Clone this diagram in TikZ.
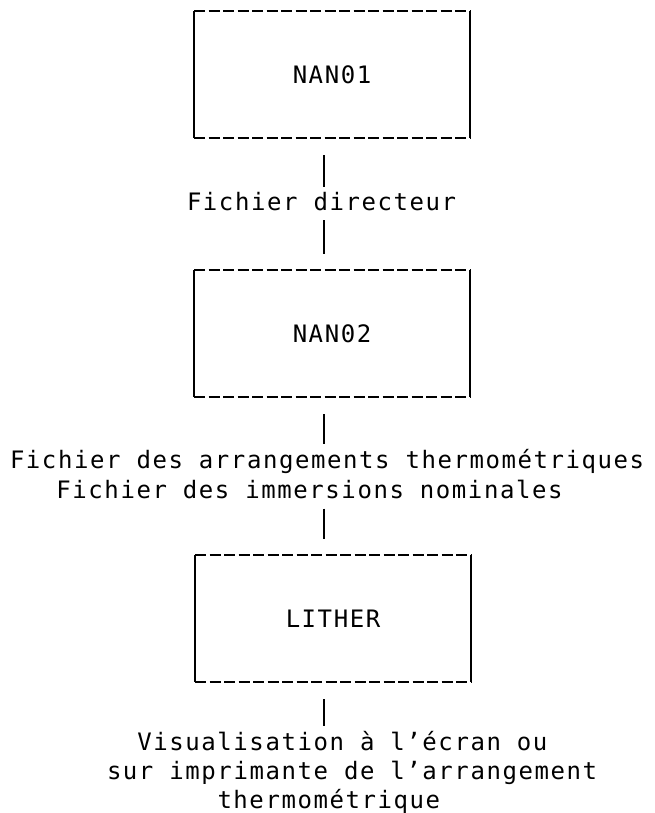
\documentclass[tikz,border=0pt]{standalone}
\usepackage{fontspec}
\newfontfamily\matrice[LetterSpace=6.5]{DejaVu Sans Mono}
% cadre : tirets en haut et en bas, traits pleins sur les cotes
\newcommand\encadre[1]{%
  \draw[tirets] (#1.north west) -- (#1.north east);
  \draw[tirets] (#1.south west) -- (#1.south east);
  \draw[trait] (#1.north west) -- (#1.south west);
  \draw[trait] (#1.north east) -- (#1.south east);}
\begin{document}
\begin{tikzpicture}[x=1pt,y=-1pt]\tikzstyle{every node}=[font=\matrice\fontsize{24}{30}\selectfont,inner sep=0pt,outer sep=0pt]
\tikzstyle{boite}=[minimum width=276pt,minimum height=127pt]
\tikzstyle{tirets}=[line width=2pt,dash pattern=on 11pt off 3.5pt]
\tikzstyle{trait}=[line width=2pt]
\tikzstyle{sortie}=[line width=1.8pt,shorten <=17pt,shorten >=5pt]
\tikzstyle{entree}=[line width=1.8pt,shorten <=10pt,shorten >=16pt]
\useasboundingbox (0,0) rectangle (655,813);
\node[boite] at (332,75) (nan1) {NAN01};
\node[boite] at (332,333.5) (nan2) {NAN02};
\node[boite] at (333,618.5) (lither) {LITHER};
\node[anchor=base west] at (187,210) (f1) {Fichier directeur};
\node[anchor=north west,align=left] at (10,449) (f2)
  {Fichier des arrangements thermométriques\\
   \phantom{Fic}Fichier des immersions nominales};
\node[anchor=north west,align=left,
      font=\matrice\fontsize{24}{29}\selectfont] at (107,731) (f3)
  {\phantom{su}Visualisation à l’écran ou\\
   sur imprimante de l’arrangement\\
   \phantom{surimpr}thermométrique};
\coordinate (axe) at (324,0);
\draw[sortie] (nan1.south -| axe) -- (f1.north -| axe);
\draw[entree] (f1.south -| axe) -- (nan2.north -| axe);
\draw[sortie] (nan2.south -| axe) -- (f2.north -| axe);
\draw[entree] (f2.south -| axe) -- (lither.north -| axe);
\draw[sortie] (lither.south -| axe) -- (f3.north -| axe);
\encadre{nan1}
\encadre{nan2}
\encadre{lither}
\end{tikzpicture}
\end{document}
